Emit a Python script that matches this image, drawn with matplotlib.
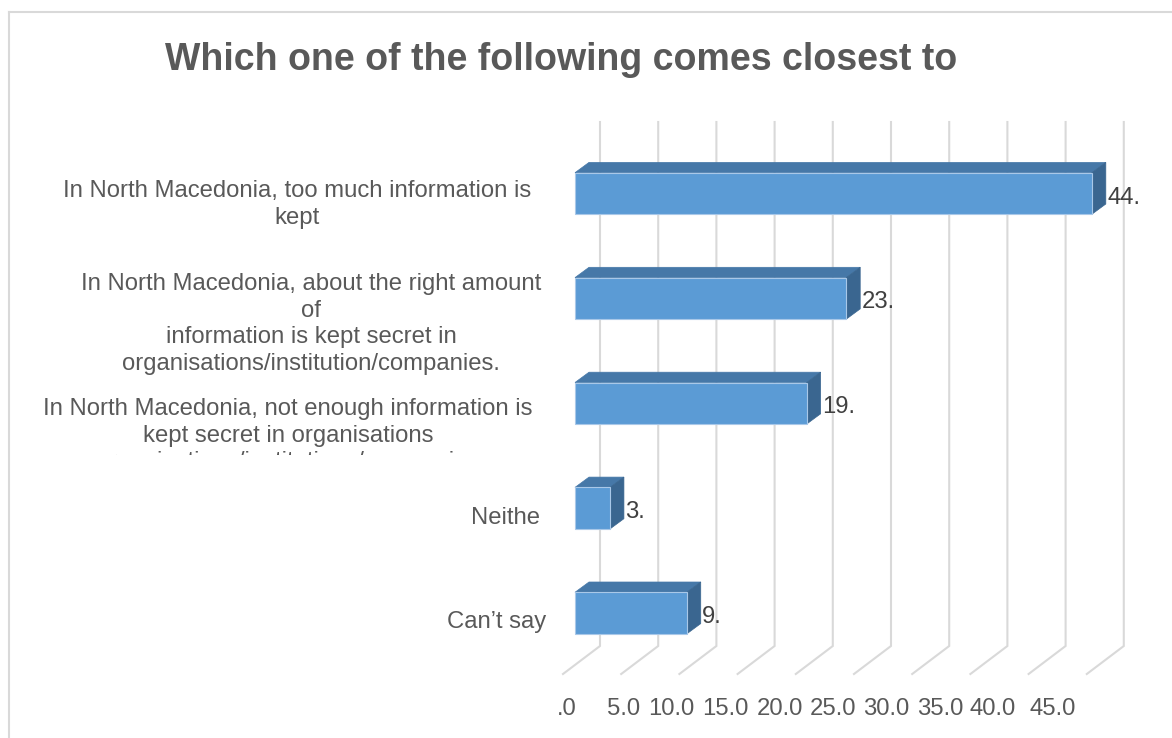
"""Horizontal 3-D style bar chart: survey answers on secrecy of information."""

import matplotlib.pyplot as plt
from matplotlib.lines import Line2D
from matplotlib.patches import Polygon, Rectangle
from matplotlib.transforms import Bbox, TransformedBbox, blended_transform_factory

plt.rcParams["font.family"] = ["Liberation Sans", "DejaVu Sans"]

TITLE = "Which one of the following comes closest to"
categories = [
    "In North Macedonia, too much information is\nkept",
    "In North Macedonia, about the right amount\nof\ninformation is kept secret in\n"
    "organisations/institution/companies.",
    "In North Macedonia, not enough information is\nkept secret in organisations\n"
    "organisations/institutions/companies",
    "Neithe",
    "Can\u2019t say",
]
values = [44.4, 23.3, 19.9, 3.0, 9.6]
grid_values = [0, 5, 10, 15, 20, 25, 30, 35, 40, 45]
tick_labels = [".0", "5.0", "10.0", "15.0", "20.0", "25.0", "30.0", "35.0", "40.0", "45.0"]

# --- layout, all in output pixels ---
W, H, DPI = 1172, 738, 100
AX_L, AX_R, AX_T, AX_B = 540, 1160, 110, 690
X0_PX, PX_PER_UNIT = 575, 11.64          # front face zero and value scale
Y0_PX, ROW_PX = 193.5, 104.9              # centre of first bar, row pitch
BAR_H_PX = 41.6
DEPTH_PX = (14, -10.3)                    # bar top/side faces
WALL_PX = 25                              # back wall offset of the grid
GRID_TOP_PX, GRID_BOT_PX = 122, 646
FLOOR_PX = (-37, 28)                      # floor gridline run
TICK_PX = [566.5, 624, 671, 725.6, 779.7, 833, 885.8, 940, 993, 1052.7]
LABEL_X_PX = [297, 311, 288, 505, 497]
LABEL_DY_PX = [11, 25.5, 32.5, 10, 9]
CLIP_Y_PX = 455                           # third label overflows its box
FS = 17.2

FRONT, TOP, SIDE = "#5b9bd5", "#4678a8", "#3a6690"
GRID = "#d9d9d9"


def px_x(px):
    return (px - X0_PX) / PX_PER_UNIT


def px_y(px):
    return (px - Y0_PX) / ROW_PX


fig = plt.figure(figsize=(W / DPI, H / DPI), dpi=DPI)
ax = fig.add_axes([AX_L / W, 1 - AX_B / H, (AX_R - AX_L) / W, (AX_B - AX_T) / H])
ax.set_xlim(px_x(AX_L), px_x(AX_R))
ax.set_ylim(px_y(AX_B), px_y(AX_T))
for s in ax.spines.values():
    s.set_visible(False)
ax.set_yticks([])

dx, dy = DEPTH_PX[0] / PX_PER_UNIT, DEPTH_PX[1] / ROW_PX
bar_h = BAR_H_PX / ROW_PX

# gridlines on the back wall, bending onto the floor
wall = WALL_PX / PX_PER_UNIT
fdx, fdy = FLOOR_PX[0] / PX_PER_UNIT, FLOOR_PX[1] / ROW_PX
y_top, y_bot = px_y(GRID_TOP_PX), px_y(GRID_BOT_PX)
for g in grid_values:
    x = g + wall
    ax.plot([x, x, x + fdx], [y_top, y_bot, y_bot + fdy],
            color=GRID, lw=1.5, zorder=0, solid_joinstyle="miter")

# bars: front, top and side faces
for i, v in enumerate(values):
    y0, y1 = i - bar_h / 2, i + bar_h / 2
    ax.add_patch(Polygon([(0, y0), (v, y0), (v + dx, y0 + dy), (dx, y0 + dy)],
                         closed=True, facecolor=TOP, edgecolor=TOP, lw=0.5, zorder=2))
    ax.add_patch(Polygon([(v, y0), (v + dx, y0 + dy), (v + dx, y1 + dy), (v, y1)],
                         closed=True, facecolor=SIDE, edgecolor=SIDE, lw=0.5, zorder=2))
    ax.add_patch(Rectangle((0, y0), v, bar_h, facecolor=FRONT,
                           edgecolor="#a9c8e8", lw=0.8, zorder=3))
    ax.text(v + dx + 0.12, i + 4 / ROW_PX, f"{int(v)}.", ha="left", va="center",
            fontsize=FS, color="#404040", zorder=4)

ax.set_xticks([px_x(p) for p in TICK_PX], tick_labels)
ax.tick_params(axis="x", length=0, pad=6, labelsize=FS, labelcolor="#595959")

# category labels to the left of the plot
lab_tr = blended_transform_factory(fig.transFigure, ax.transData)
for i, (lab, xp, off) in enumerate(zip(categories, LABEL_X_PX, LABEL_DY_PX)):
    t = ax.text(xp / W, i + off / ROW_PX, lab, transform=lab_tr, ha="center",
                va="center", multialignment="center", fontsize=FS,
                color="#595959", linespacing=1.26, clip_on=False)
    if i == 2:
        t.set_clip_on(True)
        t.set_clip_box(TransformedBbox(Bbox.from_extents(0, 1 - CLIP_Y_PX / H, 1, 1),
                                       fig.transFigure))

fig.text(561 / W, 1 - 60 / H, TITLE, ha="center", va="center", fontsize=27,
         fontweight="bold", color="#595959")

# chart area border (top and left edges show)
bx, by = 9 / W, 1 - 12 / H
fig.add_artist(Line2D([bx, 1], [by, by], transform=fig.transFigure, color=GRID, lw=1.5))
fig.add_artist(Line2D([bx, bx], [by, 0], transform=fig.transFigure, color=GRID, lw=1.5))

fig.savefig("out.png", dpi=DPI)
